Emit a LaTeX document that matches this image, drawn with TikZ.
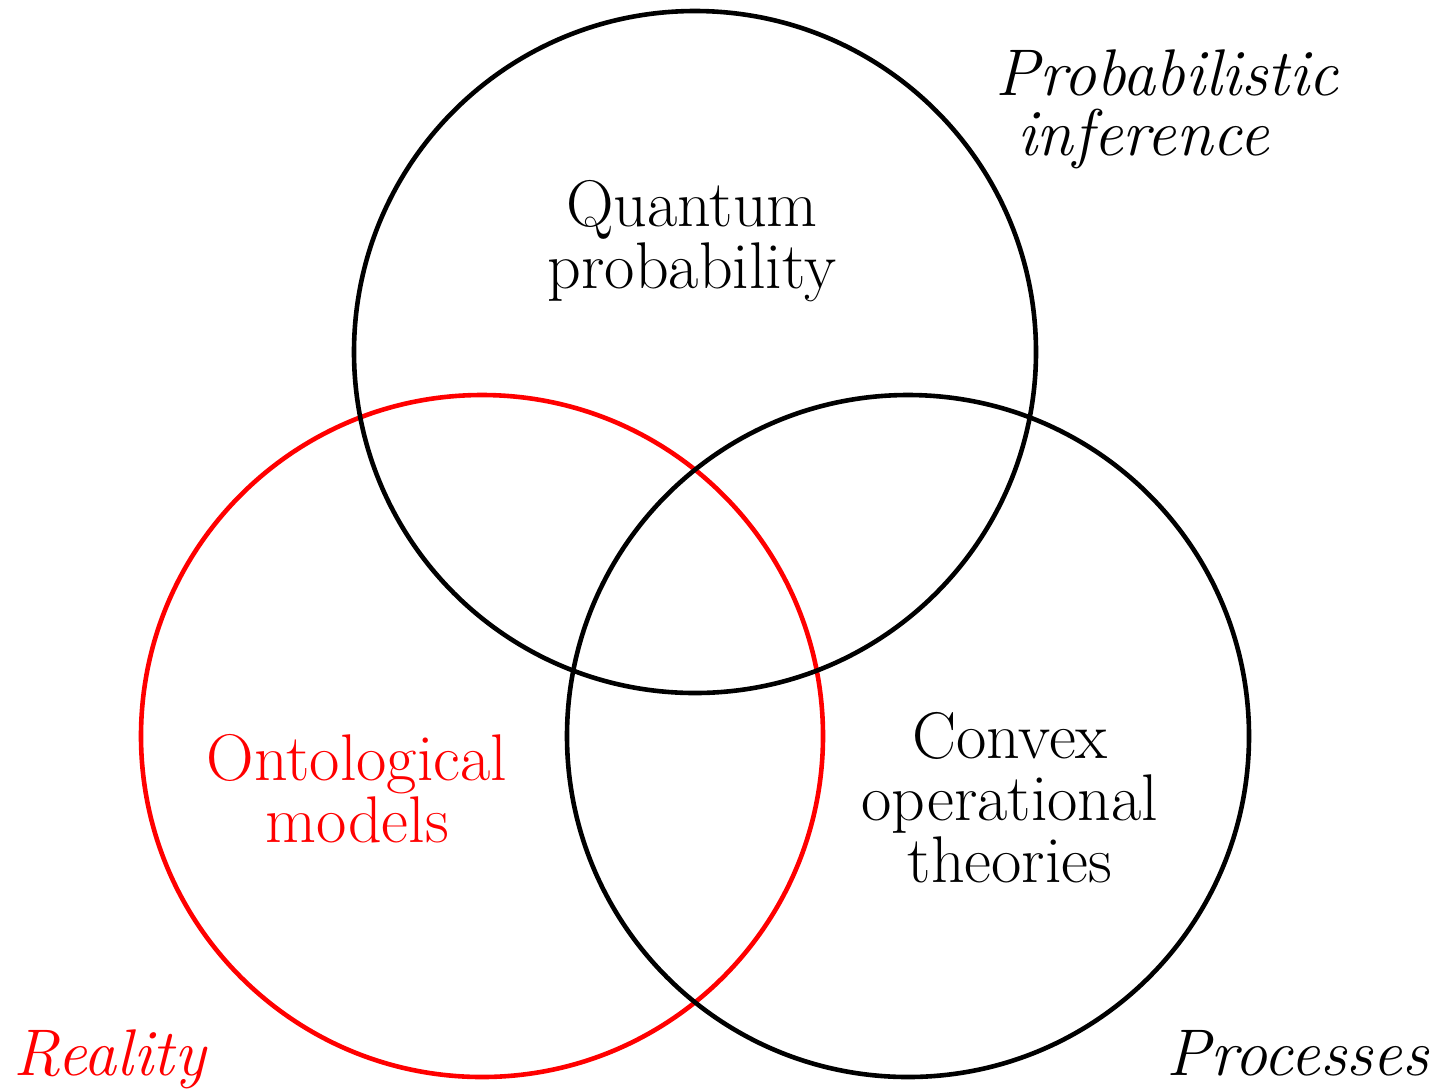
\documentclass[tikz,border=0pt]{standalone}
\begin{document}
\begin{tikzpicture}[x=0.5pt,y=-0.5pt,
  ring/.style={draw=black,line width=2.3pt},
  redring/.style={draw=red,line width=2.3pt},
  lbl/.style={font=\fontsize{33}{31}\selectfont, align=center, inner sep=0pt, anchor=base},
  itl/.style={font=\fontsize{33}{30}\selectfont\itshape, inner sep=0pt}]
\useasboundingbox (0,0) rectangle (1450,1089);
\draw[redring] (482,736) circle[radius=341];
\draw[ring] (695,352) circle[radius=341];
\draw[ring] (908,736) circle[radius=341];
\node[lbl] (qp) at (692,288) {Quantum\\probability};
\node[lbl,text=red] (om) at (357,842) {Ontological\\models};
\node[lbl] (cot) at (1010,882) {Convex\\operational\\theories};
\node[itl,align=left,anchor=base west] (pi) at (995,155) {Probabilistic\\\hspace{0.33em}inference};
\node[itl,text=red,anchor=base west] (re) at (13,1075) {Reality};
\node[itl,anchor=base west] (pr) at (1166,1075) {Processes};
\end{tikzpicture}
\end{document}
